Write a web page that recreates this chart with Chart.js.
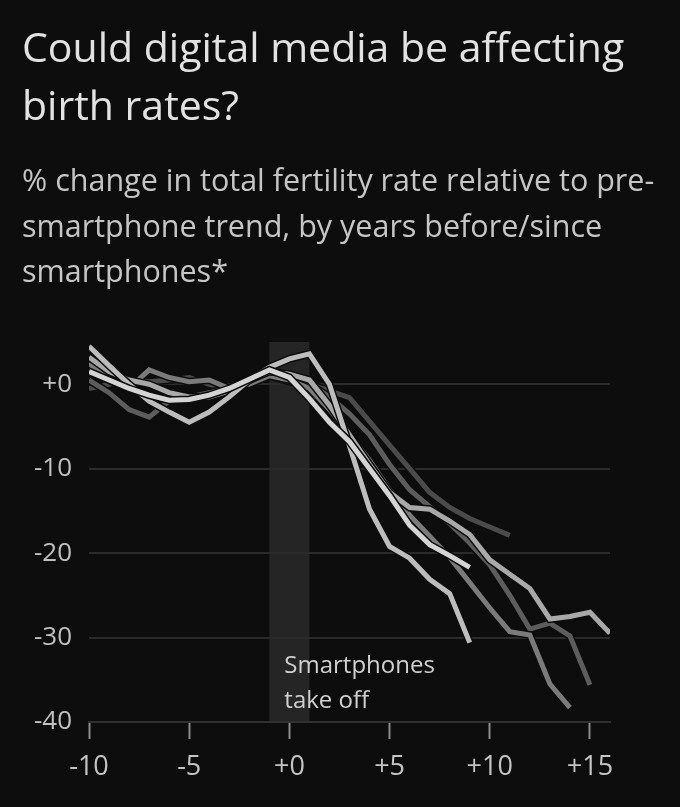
<!DOCTYPE html>
<html>
<head>
<meta charset="utf-8">
<script src="https://cdn.jsdelivr.net/npm/chart.js@4.4.1/dist/chart.umd.min.js"></script>
<style>
  html, body { margin: 0; padding: 0; background: #0d0d0d; }
  .wrap { position: relative; width: 680px; height: 807px; }
  .title {
    position: absolute; left: 22px; top: 17px; white-space: nowrap;
    font: 400 41px/58px "Open Sans", sans-serif; color: #e2e2e2;
  }
  .subtitle {
    position: absolute; left: 22px; top: 157px; white-space: nowrap;
    font: 400 30.5px/45.5px "Open Sans", sans-serif; color: #c6c6c6;
  }
  canvas { position: absolute; left: 0; top: 0; }
</style>
</head>
<body>
<div class="wrap">
  <canvas id="fertilityChart" width="680" height="807"></canvas>
  <div class="title">Could digital media be affecting<br>birth rates?</div>
  <div class="subtitle">% change in total fertility rate relative to pre-<br>smartphone trend, by years before/since<br>smartphones*</div>
</div>
<script>
// years before/since smartphones
const years = [-10, -9, -8, -7, -6, -5, -4, -3, -2, -1, 0, 1, 2, 3, 4, 5, 6, 7, 8, 9, 10, 11, 12, 13, 14, 15, 16];

// % change vs pre-smartphone trend, one array per country (starting at -10)
const seriesA = [1.5, 0.5, -0.5, -1.3, -1.9, -1.8, -1.3, -0.5, 0.6, 1.7, 0.8, -1.7, -4.5, -6.8, -10, -13.2, -16.7, -19, -20.3, -21.7];
const seriesB = [4.5, 2.2, 0, -2, -3.3, -4.5, -3.3, -1.5, 0.5, 2.0, 3.0, 3.6, 0, -7.3, -14.8, -19.2, -20.6, -23.1, -24.8, -30.6];
const seriesC = [-0.5, 0, 0.5, 0.3, 0.5, 0.8, 0, -0.5, 0.5, 1.0, 0.3, 0, -0.8, -1.6, -4.4, -7.2, -10, -12.8, -14.6, -15.9, -16.9, -17.9];
const seriesD = [2.5, 0.5, -0.5, 1.7, 0.8, 0.3, 0.5, -0.5, 0, 1.0, 0.5, -0.5, -3, -6, -9, -12.5, -15.5, -18, -20.5, -23.5, -26.5, -29.3, -29.7, -35.5, -38.3];
const seriesE = [0.5, -1.0, -3.0, -3.9, -2.0, -1.5, -1.0, -0.5, 0.3, 1.0, 0.5, 0, -1.5, -3.5, -6, -9.5, -12.5, -14.5, -16.5, -18.8, -21.4, -25, -29, -28.3, -29.8, -35.6];
const seriesF = [3.2, 1.5, 0.5, 0, -1, -1.5, -1.5, -0.8, 0.5, 1.5, 1.2, 0.5, -2.5, -6, -9.5, -12.8, -14.6, -14.8, -16.2, -17.8, -20.8, -22.5, -24.2, -27.8, -27.5, -27, -29.5];

// axis ticks
const xTicks = [-10, -5, 0, 5, 10, 15];
const xTickLabels = ['-10', '-5', '+0', '+5', '+10', '+15'];
const yTicks = [0, -10, -20, -30, -40];
const yTickLabels = ['+0', '-10', '-20', '-30', '-40'];

// smartphone take-off window
const bandRange = [-1, 1];
const bandLabel = ['Smartphones', 'take off'];

const BG = '#0d0d0d';

// top line first, drawn last
const lines = [
    { data: seriesA, color: '#d4d4d4' },
    { data: seriesB, color: '#bdbdbd' },
    { data: seriesF, color: '#a9a9a9' },
    { data: seriesD, color: '#7b7b7b' },
    { data: seriesE, color: '#5d5d5d' },
    { data: seriesC, color: '#4b4b4b' }
];

const toPoints = values => values.map((v, i) => ({ x: years[i], y: v }));

const datasets = [];
lines.forEach((line, i) => {
    const pts = toPoints(line.data);
    // dark halo under each line so crossings stay readable
    datasets.push({
        data: pts,
        borderColor: BG,
        borderWidth: 8,
        order: i * 2 + 1
    });
    datasets.push({
        data: pts,
        borderColor: line.color,
        borderWidth: 5,
        order: i * 2
    });
});
datasets.forEach(ds => {
    ds.pointRadius = 0;
    ds.tension = 0;
    ds.fill = false;
    ds.borderJoinStyle = 'miter';
    ds.borderCapStyle = 'butt';
});

const bandPlugin = {
    id: 'takeOffBand',
    beforeDraw(chart) {
        const { ctx, chartArea, scales } = chart;
        const x0 = scales.x.getPixelForValue(bandRange[0]);
        const x1 = scales.x.getPixelForValue(bandRange[1]);
        ctx.save();
        ctx.fillStyle = '#252525';
        ctx.fillRect(x0, chartArea.top, x1 - x0, chartArea.bottom - chartArea.top);
        ctx.restore();
    },
    afterDraw(chart) {
        const { ctx, scales } = chart;
        const x0 = scales.x.getPixelForValue(bandRange[0]);
        ctx.save();
        ctx.fillStyle = '#d0d0d0';
        ctx.font = '24px "Open Sans", sans-serif';
        ctx.textBaseline = 'middle';
        ctx.textAlign = 'left';
        bandLabel.forEach((t, i) => {
            ctx.fillText(t, x0 + 15, scales.y.getPixelForValue(-33.4) + i * 35);
        });
        ctx.restore();
    }
};

const ctx = document.getElementById('fertilityChart').getContext('2d');
new Chart(ctx, {
    type: 'line',
    data: { datasets },
    options: {
        responsive: false,
        animation: false,
        events: [],
        layout: {
            padding: { left: 22, right: 70, top: 342, bottom: 0 }
        },
        scales: {
            x: {
                type: 'linear',
                min: -10,
                max: 16,
                afterBuildTicks: axis => {
                    axis.ticks = xTicks.map(v => ({ value: v }));
                },
                afterFit: axis => { axis.height = 85; },
                grid: {
                    drawOnChartArea: false,
                    drawTicks: true,
                    tickLength: 17,
                    tickWidth: 2,
                    tickColor: '#8c8c8c'
                },
                border: { display: true, color: '#303030', width: 2 },
                ticks: {
                    padding: 12,
                    color: '#c4c4c4',
                    font: { family: '"Open Sans", sans-serif', size: 27 },
                    maxRotation: 0,
                    callback: value => xTickLabels[xTicks.indexOf(value)]
                }
            },
            y: {
                min: -40,
                max: 5,
                afterBuildTicks: axis => {
                    axis.ticks = yTicks.map(v => ({ value: v }));
                },
                afterFit: axis => { axis.width = 67; },
                grid: {
                    color: '#2b2b2b',
                    lineWidth: 2,
                    drawTicks: false
                },
                border: { display: false },
                ticks: {
                    padding: 17,
                    color: '#c0c0c0',
                    font: { family: '"Open Sans", sans-serif', size: 26 },
                    callback: value => yTickLabels[yTicks.indexOf(value)]
                }
            }
        },
        plugins: {
            legend: { display: false },
            tooltip: { enabled: false }
        }
    },
    plugins: [bandPlugin]
});
</script>
</body>
</html>
